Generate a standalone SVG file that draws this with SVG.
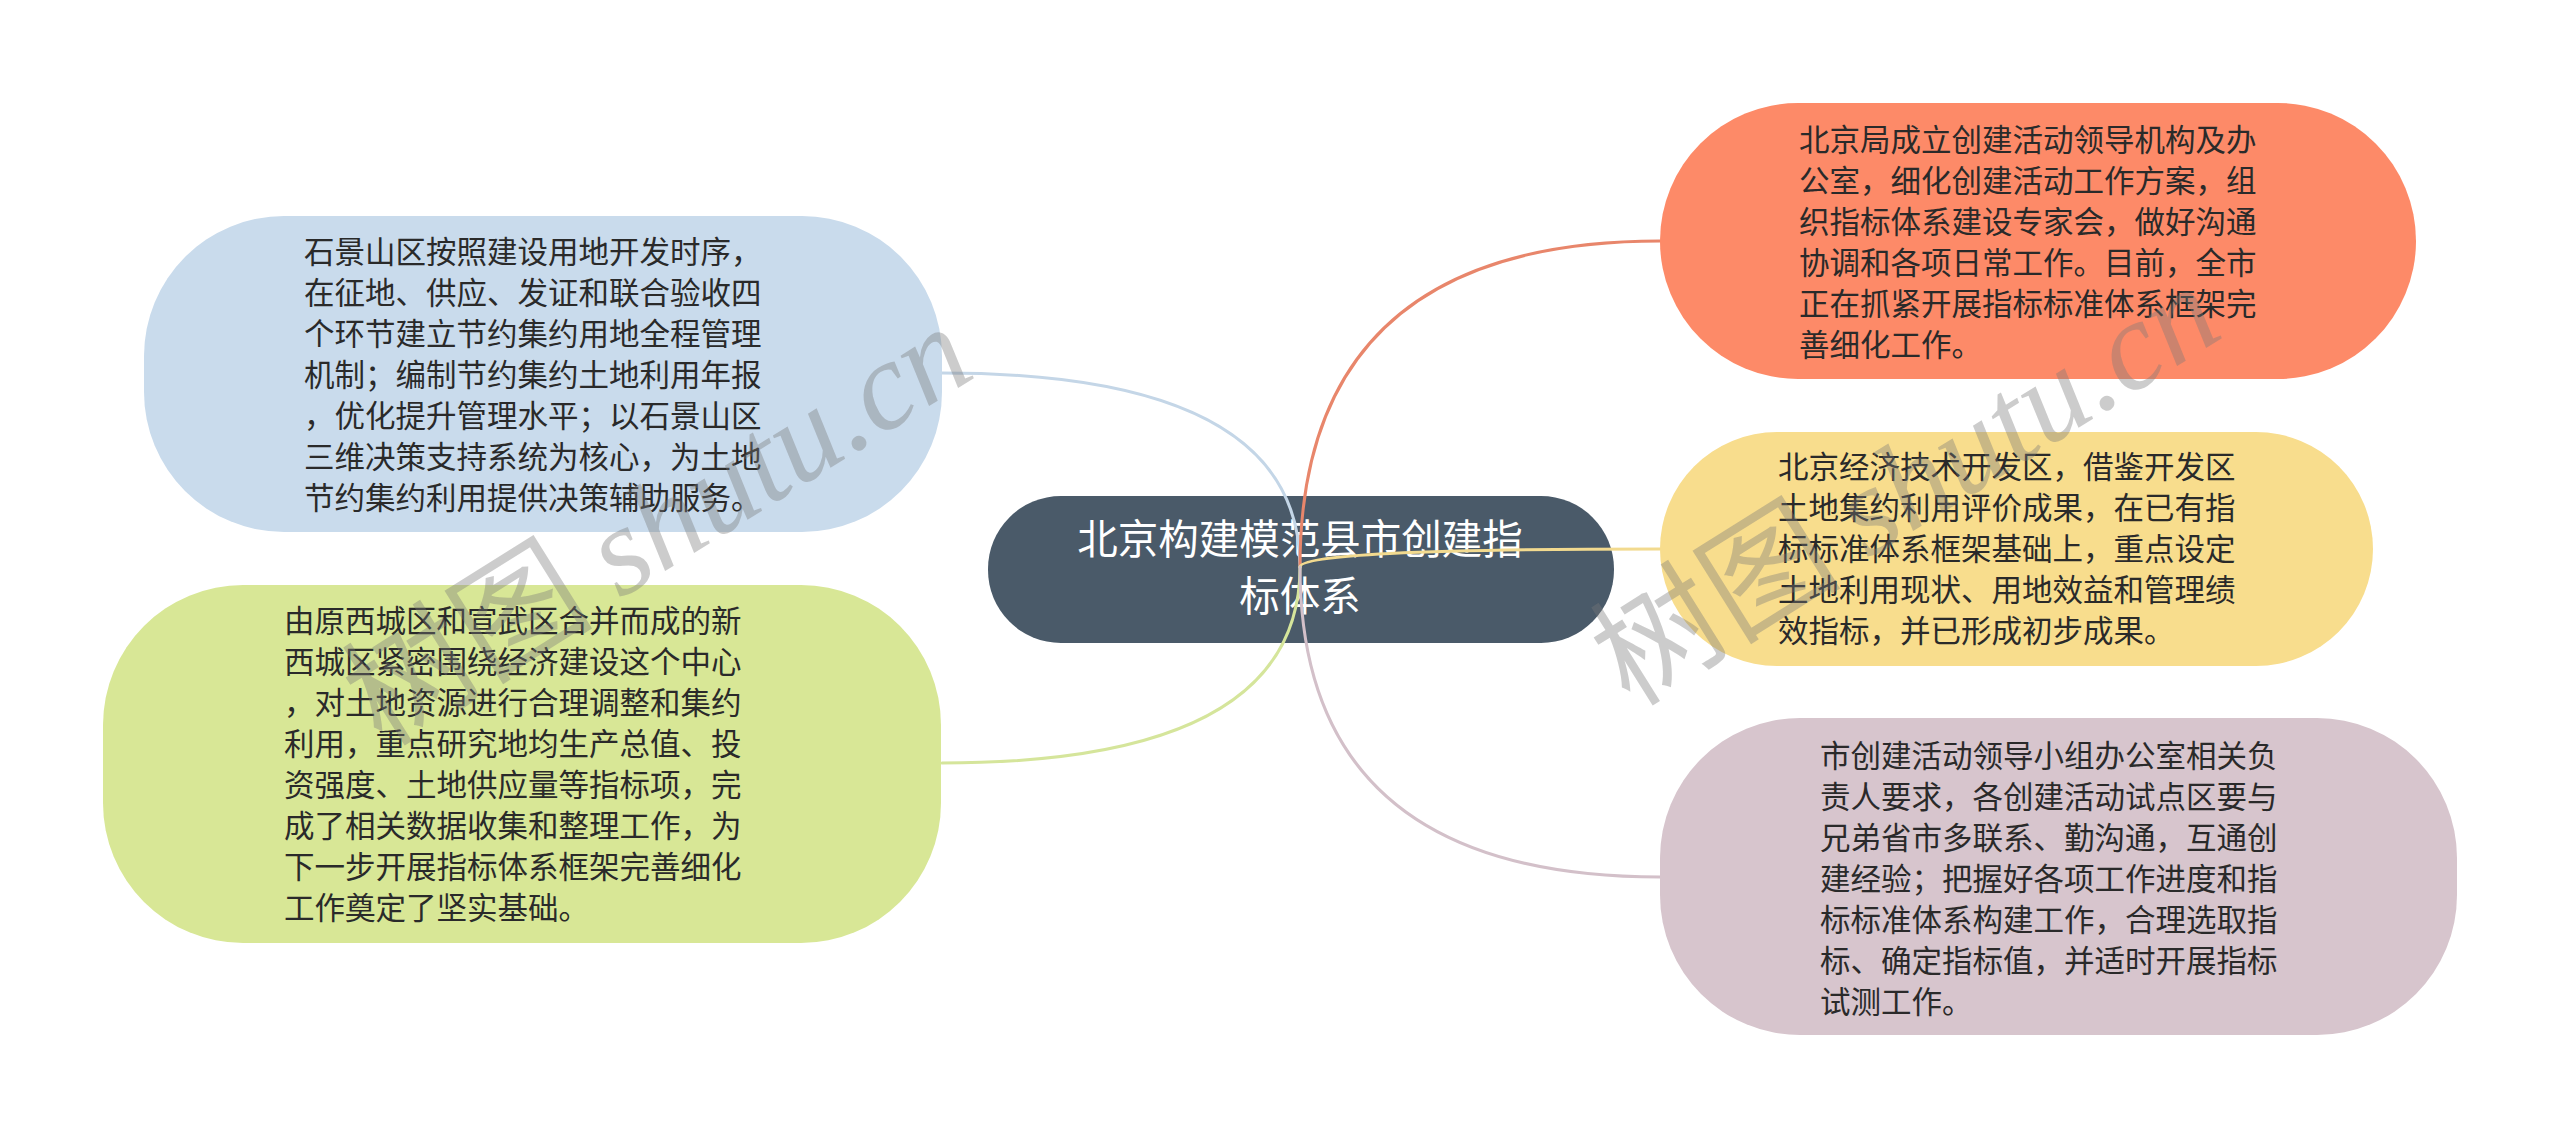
<svg xmlns="http://www.w3.org/2000/svg" width="2560" height="1140" viewBox="0 0 2560 1140">
<style>
.t{font-family:"Noto Sans CJK SC","Noto Sans",sans-serif;font-size:30.5px;fill:#2a2a2a}
.c{font-family:"Noto Sans CJK SC","Noto Sans",sans-serif;font-size:40.5px;fill:#ffffff;text-anchor:middle}
.ln{fill:none;stroke-width:3;stroke-linecap:round}
.wm{font-family:"Noto Sans CJK SC",sans-serif;font-size:126px;fill:#7a7a7a;fill-opacity:0.38}
.wm tspan.l{font-family:"Liberation Serif",serif;font-style:italic}
</style>
<rect width="2560" height="1140" fill="#ffffff"/>
<g id="root">
<rect x="988" y="496" width="626" height="147" rx="73" ry="73" fill="#4a5a69"/>
<text class="c"><tspan x="1300" y="554">北京构建模范县市创建指</tspan><tspan x="1300" y="611">标体系</tspan></text>
</g>
<g id="connectors">
<path class="ln" stroke="#c4d6e7" d="M1300,567 Q1300,373 942,373"/>
<path class="ln" stroke="#e8866b" d="M1300,567 Q1300,241 1660,241"/>
<path class="ln" stroke="#f2da8f" d="M1300,567 Q1300,549 1660,549"/>
<path class="ln" stroke="#d5e59b" d="M1300,567 Q1300,763 942,763"/>
<path class="ln" stroke="#d3c0c9" d="M1300,567 Q1300,877 1660,877"/>
</g>
<g id="node-shijingshan">
<rect x="144" y="216" width="798" height="316" rx="140" ry="140" fill="#c9dbec"/>
<text class="t"><tspan x="304" y="263">石景山区按照建设用地开发时序，</tspan><tspan x="304" y="304">在征地、供应、发证和联合验收四</tspan><tspan x="304" y="345">个环节建立节约集约用地全程管理</tspan><tspan x="304" y="386">机制；编制节约集约土地利用年报</tspan><tspan x="304" y="427">，优化提升管理水平；以石景山区</tspan><tspan x="304" y="468">三维决策支持系统为核心，为土地</tspan><tspan x="304" y="509">节约集约利用提供决策辅助服务。</tspan></text>
</g>
<g id="node-xicheng">
<rect x="103" y="585" width="838" height="358" rx="140" ry="140" fill="#d8e796"/>
<text class="t"><tspan x="284" y="632">由原西城区和宣武区合并而成的新</tspan><tspan x="284" y="673">西城区紧密围绕经济建设这个中心</tspan><tspan x="284" y="714">，对土地资源进行合理调整和集约</tspan><tspan x="284" y="755">利用，重点研究地均生产总值、投</tspan><tspan x="284" y="796">资强度、土地供应量等指标项，完</tspan><tspan x="284" y="837">成了相关数据收集和整理工作，为</tspan><tspan x="284" y="878">下一步开展指标体系框架完善细化</tspan><tspan x="284" y="919">工作奠定了坚实基础。</tspan></text>
</g>
<g id="node-beijing">
<rect x="1660" y="103" width="756" height="276" rx="138" ry="138" fill="#fd8a68"/>
<text class="t"><tspan x="1799" y="151">北京局成立创建活动领导机构及办</tspan><tspan x="1799" y="192">公室，细化创建活动工作方案，组</tspan><tspan x="1799" y="233">织指标体系建设专家会，做好沟通</tspan><tspan x="1799" y="274">协调和各项日常工作。目前，全市</tspan><tspan x="1799" y="315">正在抓紧开展指标标准体系框架完</tspan><tspan x="1799" y="356">善细化工作。</tspan></text>
</g>
<g id="node-kaifaqu">
<rect x="1660" y="432" width="713" height="234" rx="117" ry="117" fill="#f8dd8d"/>
<text class="t"><tspan x="1778" y="478">北京经济技术开发区，借鉴开发区</tspan><tspan x="1778" y="519">土地集约利用评价成果，在已有指</tspan><tspan x="1778" y="560">标标准体系框架基础上，重点设定</tspan><tspan x="1778" y="601">土地利用现状、用地效益和管理绩</tspan><tspan x="1778" y="642">效指标，并已形成初步成果。</tspan></text>
</g>
<g id="node-xiaozu">
<rect x="1660" y="718" width="797" height="317" rx="140" ry="140" fill="#d7c5cd"/>
<text class="t"><tspan x="1820" y="767">市创建活动领导小组办公室相关负</tspan><tspan x="1820" y="808">责人要求，各创建活动试点区要与</tspan><tspan x="1820" y="849">兄弟省市多联系、勤沟通，互通创</tspan><tspan x="1820" y="890">建经验；把握好各项工作进度和指</tspan><tspan x="1820" y="931">标标准体系构建工作，合理选取指</tspan><tspan x="1820" y="972">标、确定指标值，并适时开展指标</tspan><tspan x="1820" y="1013">试测工作。</tspan></text>
</g>
<g id="watermarks">
<text class="wm" transform="translate(382,748) rotate(-32)">树图 <tspan class="l">shutu.cn</tspan></text>
<text class="wm" transform="translate(1630,708) rotate(-32)">树图 <tspan class="l">shutu.cn</tspan></text>
</g>
</svg>
